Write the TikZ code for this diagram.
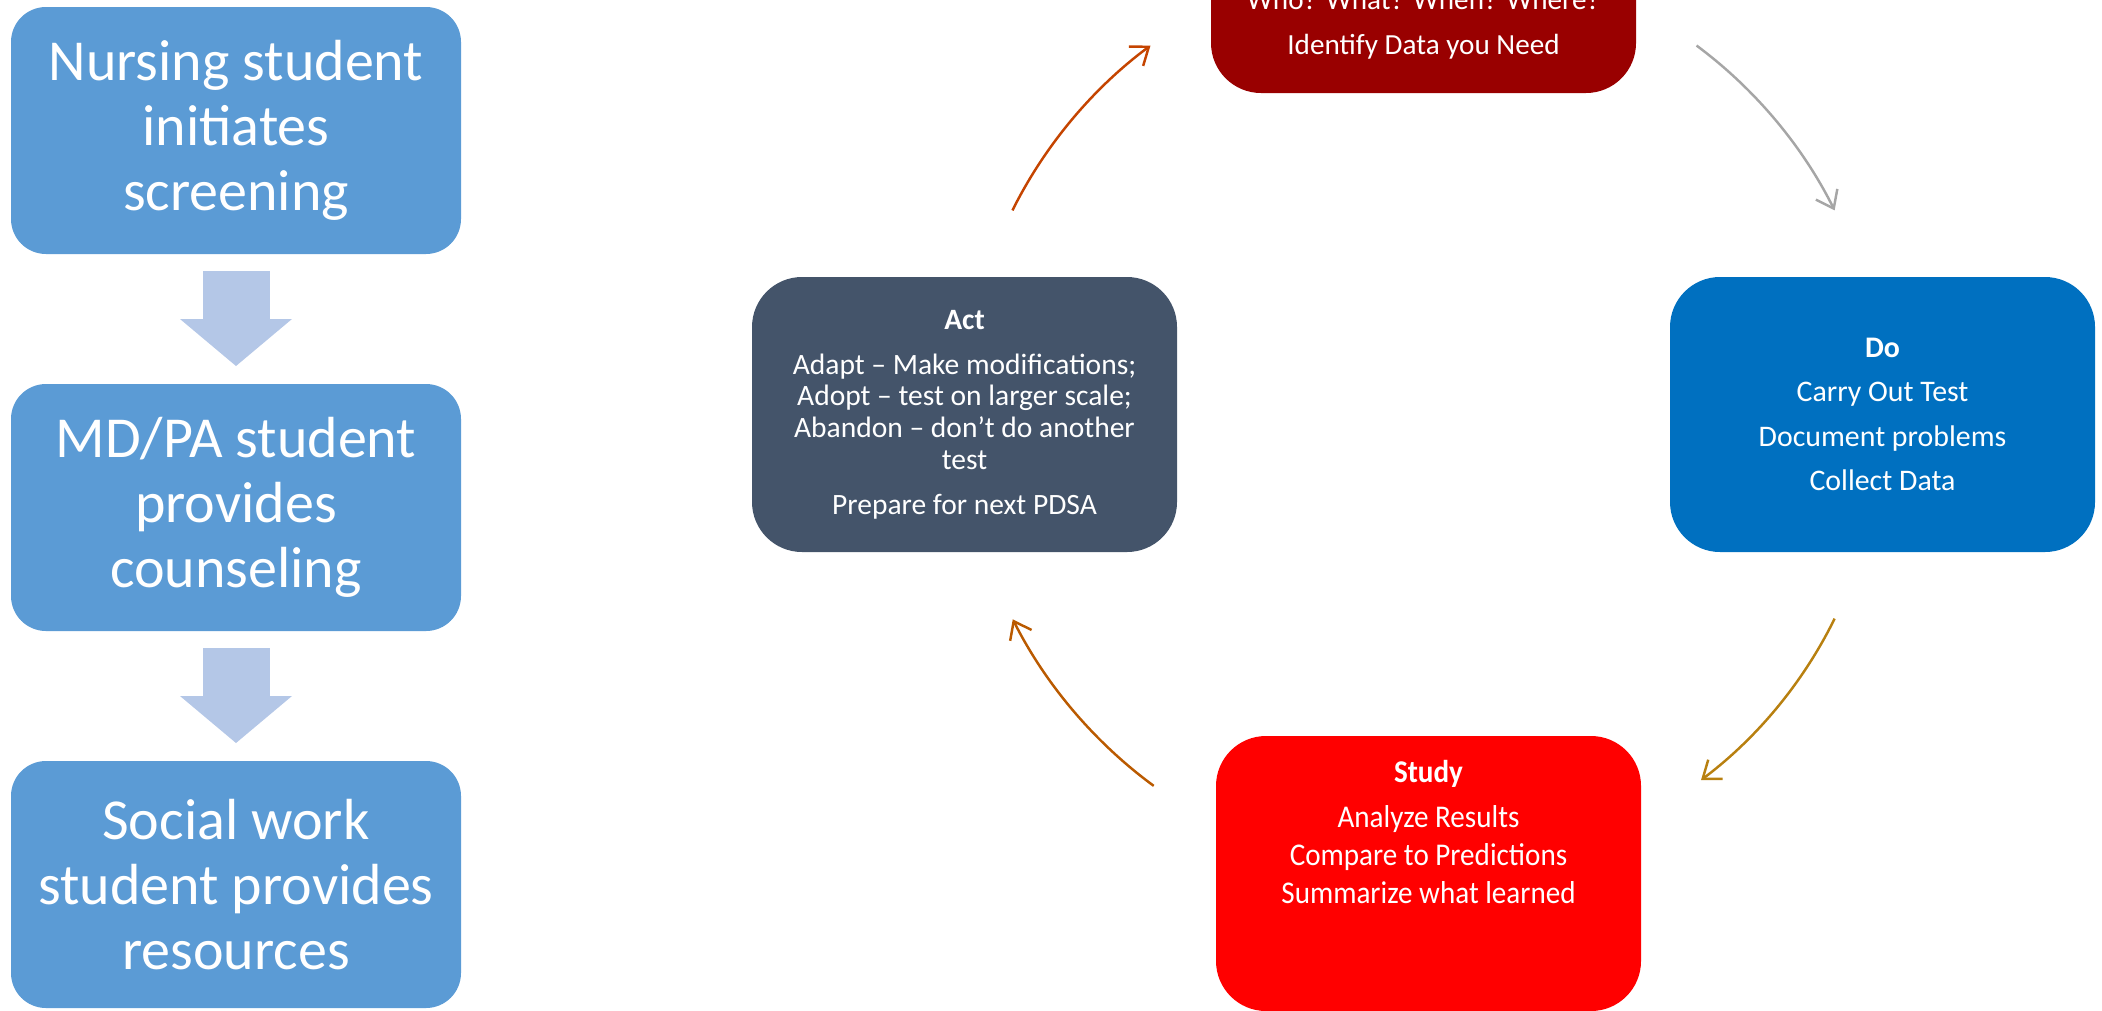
\documentclass[tikz,border=0pt]{standalone}
\usepackage{fontspec}
\setmainfont{Carlito}
\newfontfamily\studyfont[FakeStretch=0.92]{Carlito}
\usetikzlibrary{arrows.meta, positioning, calc}

\definecolor{stepblue}{HTML}{5B9BD5}
\definecolor{arrowblue}{HTML}{B4C7E7}
\definecolor{plancol}{HTML}{990000}
\definecolor{docol}{HTML}{0070C0}
\definecolor{studycol}{HTML}{FF0000}
\definecolor{actcol}{HTML}{44546A}
\definecolor{toplan}{RGB}{197,68,0}
\definecolor{todo}{HTML}{A6A6A6}
\definecolor{tostudy}{RGB}{184,128,16}
\definecolor{toact}{RGB}{186,90,0}

\begin{document}
\begin{tikzpicture}[every node/.style={text=white, outer sep=0pt},
  stepbox/.style={rectangle, rounded corners=0.35cm, fill=stepblue, minimum width=4.5cm, minimum height=2.47cm, align=center, font=\fontsize{16.5}{18.5}\selectfont},
  steparrow/.style={line width=0.67cm, draw=arrowblue, -{Triangle[width=1.12cm, length=0.47cm, line width=0pt]}, shorten <=0.17cm, shorten >=0.18cm},
  cycbox/.style={rectangle, rounded corners=0.5cm, minimum width=4.25cm, minimum height=2.75cm, align=center},
  cycarrow/.style={line width=0.7pt, -{Straight Barb[length=0.16cm, width=0.24cm]}, bend left=13.5, looseness=0.86}]
\useasboundingbox (0,0) rectangle (21.02,-10.10);
\clip (0,0) rectangle (21.02,-10.10);

% Student steps
\node (nurse) at (2.36,-1.305) [stepbox] {Nursing student\\initiates\\screening};
\node (md) [below=1.3cm of nurse, stepbox] {MD/PA student\\provides\\counseling};
\node (social) [below=1.3cm of md, stepbox] {Social work\\student provides\\resources};

\draw[steparrow] (nurse) -- (md);
\draw[steparrow] (md) -- (social);

% PDSA cycle
\coordinate (hub) at (14.235,-4.145);
\node (plan) at ($(hub)+(0,4.59)$) [cycbox, fill=plancol] {};
\node[font=\fontsize{8.3}{12.8}\selectfont, align=center] at ($(plan.south)+(0,0.69)$) {Who? What? When? Where?\\Identify Data you Need};

\node (do) at ($(hub)+(4.59,0)$) [cycbox, fill=docol, font=\fontsize{8.5}{12.66}\selectfont] {\textbf{Do}\\Carry Out Test\\Document problems\\Collect Data};

\node (study) at ($(hub)+(0.05,-4.59)$) [cycbox, fill=studycol] {};
\node[font=\studyfont\fontsize{9}{10.7}\selectfont, align=center] at ($(study.north)+(0,-0.96)$) {\textbf{Study}\\[2.1pt]Analyze Results\\Compare to Predictions\\Summarize what learned};

\node (act) at ($(hub)+(-4.59,0)$) [cycbox, fill=actcol, font=\fontsize{8.4}{9}\selectfont] {\textbf{Act}\\[3.8pt]Adapt – Make modifications;\\Adopt – test on larger scale;\\Abandon – don’t do another\\test\\[3.8pt]Prepare for next PDSA};

% Arrows of the cycle
\coordinate (actout) at ($(hub)+(153.6:4.59)$);
\coordinate (planin) at ($(hub)+(126.5:4.59)$);
\coordinate (planout) at ($(hub)+(53.5:4.59)$);
\coordinate (doin) at ($(hub)+(26.4:4.59)$);
\coordinate (doout) at ($(hub)+(-26.4:4.59)$);
\coordinate (studyin) at ($(hub)+(-52.8:4.59)$);
\coordinate (studyout) at ($(hub)+(-126:4.59)$);
\coordinate (actin) at ($(hub)+(-153.5:4.59)$);

\draw[cycarrow, toplan] (actout) to (planin);
\draw[cycarrow, todo] (planout) to (doin);
\draw[cycarrow, tostudy] (doout) to (studyin);
\draw[cycarrow, toact] (studyout) to (actin);
\end{tikzpicture}
\end{document}
